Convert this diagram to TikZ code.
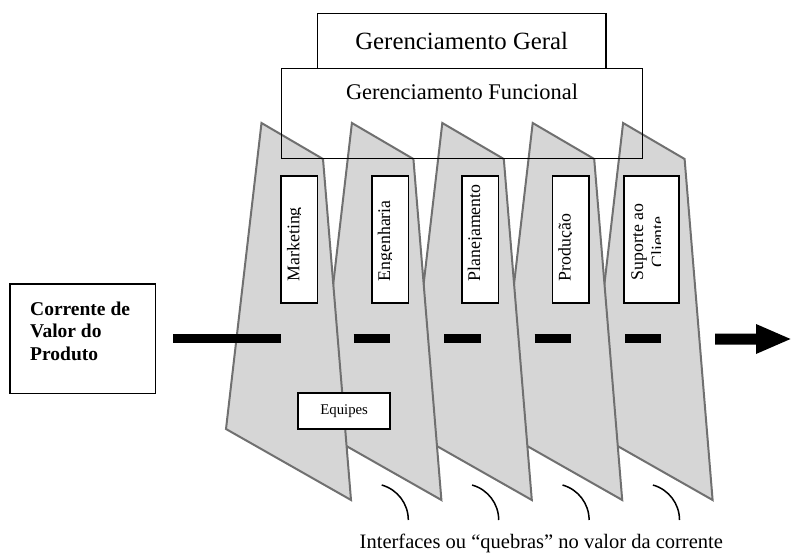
\documentclass[tikz,border=0pt]{standalone}
\usepackage{fontspec}
\setmainfont{Liberation Serif}
\definecolor{panelfill}{RGB}{214,214,214}
\definecolor{paneledge}{RGB}{112,112,112}
\tikzset{
  panel/.style={fill=panelfill, draw=paneledge, line width=2pt, line join=miter},
  mgmtbox/.style={draw=black, line width=1.4pt, inner sep=0pt},
  funcbox/.style={draw=black, fill=white, line width=1.6pt, inner sep=0pt,
                  minimum height=127pt},
  vlabel/.style={rotate=90, inner sep=0pt, font=\fontsize{17.8}{20}\selectfont},
  flowbar/.style={line width=9.5pt},
  breakarc/.style={line width=1.5pt, line cap=butt},
}
\begin{document}
\begin{tikzpicture}[x=1pt,y=1pt]
\useasboundingbox (0,0) rectangle (791,552);

% functional areas, drawn right to left so the left one lies on top
\foreach \k in {4,3,2,1,0}{
  \pgfmathsetmacro{\dx}{90.4*\k}
  \draw[panel] (261.5+\dx,429) -- (323+\dx,393) -- (351+\dx,52)
               -- (226+\dx,123) -- cycle;
}

% management layers
\node[mgmtbox, fill=white, minimum width=288.5pt, minimum height=55pt]
  (geral) at (461.75,511) {};
\node[anchor=base, inner sep=0pt, font=\fontsize{24.8}{28}\selectfont]
  (geraltxt) at (461.7,502.7) {Gerenciamento Geral};
\node[mgmtbox, minimum width=361pt, minimum height=90pt]
  (funcional) at (462,438.5) {};
\node[anchor=base, inner sep=0pt, font=\fontsize{22.4}{26}\selectfont]
  (funcionaltxt) at (462,452) {Gerenciamento Funcional};

% function boxes with rotated labels
\node[funcbox, minimum width=36.3pt] (mkt) at (299.15,312.5) {};
\node[funcbox, minimum width=36.6pt] (eng) at (390,312.5) {};
\node[funcbox, minimum width=36.6pt] (plan) at (480,312.5) {};
\node[funcbox, minimum width=36.4pt] (prod) at (570.5,312.5) {};
\node[funcbox, minimum width=55pt] (sup) at (651.5,312.5) {};

\begin{scope}
  \clip (281,249) rectangle (300.3,376);
  \node[vlabel, anchor=base west] (mkttxt) at (299.3,270.5) {Marketing};
\end{scope}
\begin{scope}
  \clip (371.7,249) rectangle (391,376);
  \node[vlabel, anchor=base west] (engtxt) at (390,270.5) {Engenharia};
\end{scope}
\begin{scope}
  \clip (461.7,249) rectangle (481,376);
  \node[vlabel, anchor=base west] (plantxt) at (480,270.5) {Planejamento};
\end{scope}
\begin{scope}
  \clip (552.3,249) rectangle (571.6,376);
  \node[vlabel, anchor=base west] (prodtxt) at (570.6,270.5) {Produção};
\end{scope}
\begin{scope}
  \clip (624,249) rectangle (660,376);
  \node[vlabel, anchor=base] (suptxt) at (643,310) {Suporte ao};
  \node[vlabel, anchor=base] (suptxtb) at (663.5,310) {Cliente};
\end{scope}

% value stream box
\node[draw=black, line width=1.5pt, fill=white, inner sep=0pt,
      minimum width=145.7pt, minimum height=109.3pt] (stream) at (82.85,213.35) {};
\begin{scope}[every node/.style={anchor=base west, inner sep=0pt,
      font=\fontsize{19.5}{22.5}\selectfont\bfseries}]
  \node (streamA) at (30,237) {Corrente de};
  \node (streamB) at (30,214.5) {Valor do};
  \node (streamC) at (30,192) {Produto};
\end{scope}

% broken value stream
\coordinate (s0a) at (173,213.3);   \coordinate (s0b) at (281,213.3);
\coordinate (s1a) at (353.5,213.3); \coordinate (s1b) at (390,213.3);
\coordinate (s2a) at (444,213.3);   \coordinate (s2b) at (480.5,213.3);
\coordinate (s3a) at (534.5,213.3); \coordinate (s3b) at (571,213.3);
\coordinate (s4a) at (625,213.3);   \coordinate (s4b) at (661,213.3);
\draw[flowbar] (s0a) -- (s0b);
\draw[flowbar] (s1a) -- (s1b);
\draw[flowbar] (s2a) -- (s2b);
\draw[flowbar] (s3a) -- (s3b);
\draw[flowbar] (s4a) -- (s4b);
\coordinate (outA) at (715,213);
\coordinate (outB) at (756,213);
\coordinate (outTip) at (790.5,213);
\fill (outA) ++(0,5.5) -- ++(41,0) -- ++(0,9.5) -- (outTip) -- ++(-34.5,-15)
      -- ++(0,9.5) -- ++(-41,0) -- cycle;

% teams
\node[draw=black, line width=2pt, fill=white, inner sep=0pt,
      minimum width=91.7pt, minimum height=36pt,
      font=\fontsize{14.8}{17}\selectfont] (equipes) at (344.15,140.7) {Equipes};

% interface marks
\foreach \k in {0,1,2,3}{
  \pgfmathsetmacro{\cx}{372+90.4*\k}
  \draw[breakarc] (\cx,32) ++(74.5:36.3) arc[start angle=74.5, end angle=0, radius=36.3];
}
\node[anchor=base, inner sep=0pt, font=\fontsize{20.5}{24}\selectfont]
  (interfaces) at (541.3,3.7) {Interfaces ou “quebras” no valor da corrente};
\end{tikzpicture}
\end{document}
